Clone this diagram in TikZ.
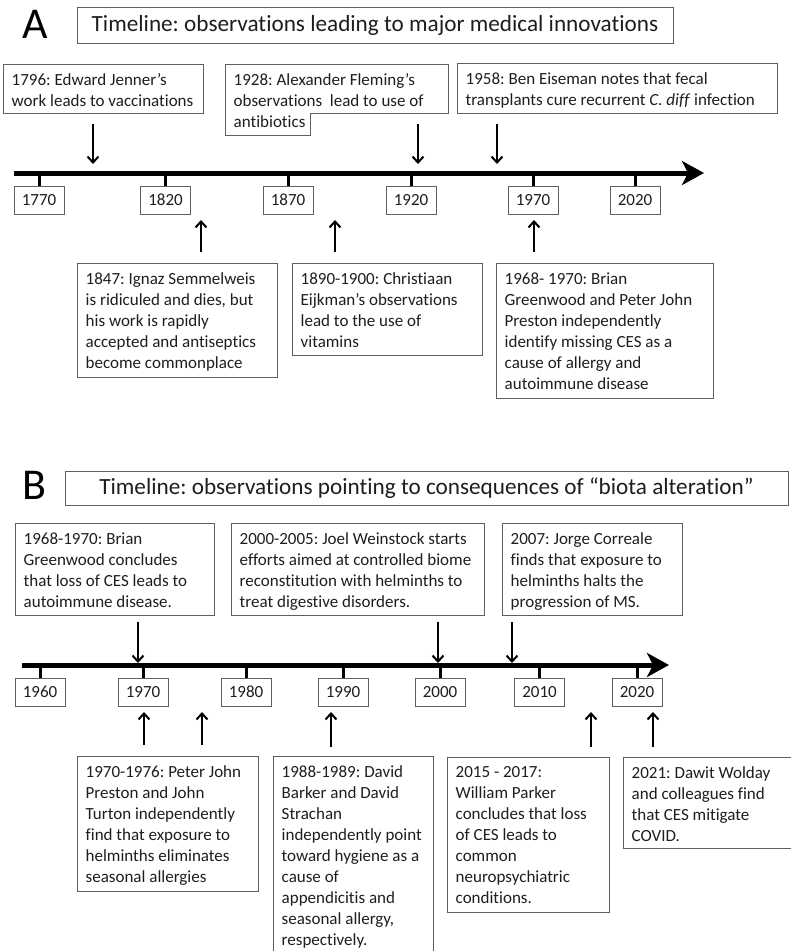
\documentclass[tikz,border=0pt]{standalone}
\usepackage{fontspec}
\setmainfont{Carlito}[Ligatures=NoCommon]
\usetikzlibrary{arrows.meta}
\frenchspacing
\definecolor{txt}{RGB}{30,30,30}
\definecolor{frame}{RGB}{95,95,95}
\tikzset{
  body/.style={font=\fontsize{17}{21}\selectfont, text=txt},
  evbox/.style={draw=frame, line width=1pt, anchor=north west, inner sep=0pt, outer sep=0pt},
  evtext/.style={body, anchor=north west, align=left, inner sep=0pt, execute at begin node=\strut},
  yearbox/.style={body, draw=frame, line width=1pt, minimum width=50pt, minimum height=28pt, inner sep=0pt},
  titlebox/.style={font=\fontsize{23.2}{28}\selectfont, text=txt, draw=frame, line width=1pt, inner sep=0pt},
  panel/.style={font=\fontsize{44}{50}\selectfont, text=black},
  axis/.style={line width=5pt, -{Stealth[length=22pt, width=24pt, inset=6pt]}},
  tick/.style={line width=3pt},
  evarrow/.style={line width=2pt, -{Straight Barb[length=6pt, width=11pt]}},
  tpos/.style={at={([shift={(8.5,9.3)}]#1.north west)}},
}
\begin{document}
\begin{tikzpicture}[x=1pt, y=-1pt]
\useasboundingbox (0,0) rectangle (791,951);
\clip (0,0) rectangle (791,951);
\fill[white] (0,0) rectangle (791,951);

% ---------------- Panel A ----------------
\node[panel] (A) at (35,24) {A};
\node[titlebox, minimum width=596pt, minimum height=36pt] (titleA) at (375,25) {Timeline: observations leading to major medical innovations};

\node[evbox, minimum width=200pt, minimum height=49pt] (a1) at (3,64) {};
\node[evtext, tpos=a1] (a1t) {1796: Edward Jenner’s\\work leads to vaccinations};

\coordinate (a2) at (225,64);
\draw[frame, line width=1pt] (a2) -- (448,64) -- (448,113) -- (310,113) -- (310,135) -- (225,135) -- cycle;
\node[evtext, tpos=a2] (a2t) {1928: Alexander Fleming’s\\observations~ lead to use of\\antibiotics};

\node[evbox, minimum width=320pt, minimum height=50pt] (a3) at (457,63) {};
\node[evtext, tpos=a3] (a3t) {1958: Ben Eiseman notes that fecal\\transplants cure recurrent \textit{C. diff} infection};

\coordinate (ax0) at (14,173);
\coordinate (ax1) at (704,173);
\draw[axis] (ax0) -- (ax1);

\foreach \n/\x in {1770/39, 1820/165.5, 1870/288, 1920/411, 1970/533, 2020/635}{
  \node[yearbox] (yA\n) at (\x,200) {\n};
  \coordinate (tA\n) at (\x,173);
  \draw[tick] (tA\n) -- (yA\n.north);
}

\coordinate (d1s) at (93,124);   \coordinate (d1e) at (93,164);
\coordinate (d2s) at (418,124);  \coordinate (d2e) at (418,164);
\coordinate (d3s) at (497,124);  \coordinate (d3e) at (497,164);
\draw[evarrow] (d1s) -- (d1e);
\draw[evarrow] (d2s) -- (d2e);
\draw[evarrow] (d3s) -- (d3e);

\coordinate (u1s) at (201,252);  \coordinate (u1e) at (201,220);
\coordinate (u2s) at (335,252);  \coordinate (u2e) at (335,220);
\coordinate (u3s) at (534,252);  \coordinate (u3e) at (534,220);
\draw[evarrow] (u1s) -- (u1e);
\draw[evarrow] (u2s) -- (u2e);
\draw[evarrow] (u3s) -- (u3e);

\node[evbox, minimum width=200pt, minimum height=114pt] (a4) at (77,263) {};
\node[evtext, tpos=a4] (a4t) {1847: Ignaz Semmelweis\\is ridiculed and dies, but\\his work is rapidly\\accepted and antiseptics\\become commonplace};
\node[evbox, minimum width=190pt, minimum height=92pt] (a5) at (292,263) {};
\node[evtext, tpos=a5] (a5t) {1890-1900: Christiaan\\Eijkman’s observations\\lead to the use of\\vitamins};
\node[evbox, minimum width=217pt, minimum height=135pt] (a6) at (496,263) {};
\node[evtext, tpos=a6] (a6t) {1968- 1970: Brian\\Greenwood and Peter John\\Preston independently\\identify missing CES as a\\cause of allergy and\\autoimmune disease};

% ---------------- Panel B ----------------
\node[panel] (B) at (34,485) {B};
\node[titlebox, minimum width=723pt, minimum height=34pt] (titleB) at (426.5,488) {Timeline: observations pointing to consequences of “biota alteration”};

\node[evbox, minimum width=199pt, minimum height=92pt] (b1) at (15,523) {};
\node[evtext, tpos=b1] (b1t) {1968-1970: Brian\\Greenwood concludes\\that loss of CES leads to\\autoimmune disease.};
\node[evbox, minimum width=253pt, minimum height=92pt] (b2) at (231,523) {};
\node[evtext, tpos=b2] (b2t) {2000-2005: Joel Weinstock starts\\efforts aimed at controlled biome\\reconstitution with helminths to\\treat digestive disorders.};
\node[evbox, minimum width=180pt, minimum height=92pt] (b3) at (502,523) {};
\node[evtext, tpos=b3] (b3t) {2007: Jorge Correale\\finds that exposure to\\helminths halts the\\progression of MS.};

\coordinate (bx0) at (22,665);
\coordinate (bx1) at (669,665);
\draw[axis] (bx0) -- (bx1);

\foreach \n/\x in {1960/40, 1970/143, 1980/246, 1990/343, 2000/440, 2010/539.5, 2020/637}{
  \node[yearbox] (yB\n) at (\x,692) {\n};
  \coordinate (tB\n) at (\x,665);
  \draw[tick] (tB\n) -- (yB\n.north);
}

\coordinate (e1s) at (138,622);  \coordinate (e1e) at (138,663);
\coordinate (e2s) at (438,622);  \coordinate (e2e) at (438,663);
\coordinate (e3s) at (512,622);  \coordinate (e3e) at (512,663);
\draw[evarrow] (e1s) -- (e1e);
\draw[evarrow] (e2s) -- (e2e);
\draw[evarrow] (e3s) -- (e3e);

\coordinate (v1s) at (144,745);  \coordinate (v1e) at (144,712);
\coordinate (v2s) at (202,745);  \coordinate (v2e) at (202,712);
\coordinate (v3s) at (331,747);  \coordinate (v3e) at (331,712);
\coordinate (v4s) at (591,747);  \coordinate (v4e) at (591,712);
\coordinate (v5s) at (653,747);  \coordinate (v5e) at (653,712);
\draw[evarrow] (v1s) -- (v1e);
\draw[evarrow] (v2s) -- (v2e);
\draw[evarrow] (v3s) -- (v3e);
\draw[evarrow] (v4s) -- (v4e);
\draw[evarrow] (v5s) -- (v5e);

\node[evbox, minimum width=181pt, minimum height=135pt] (b4) at (77,756) {};
\node[evtext, tpos=b4] (b4t) {1970-1976: Peter John\\Preston and John\\Turton independently\\find that exposure to\\helminths eliminates\\seasonal allergies};
\node[evbox, minimum width=160pt, minimum height=210pt] (b5) at (273,756) {};
\node[evtext, tpos=b5] (b5t) {1988-1989: David\\Barker and David\\Strachan\\independently point\\toward hygiene as a\\cause of\\appendicitis and\\seasonal allergy,\\respectively.};
\node[evbox, minimum width=162pt, minimum height=155pt] (b6) at (447,757) {};
\node[evtext, tpos=b6] (b6t) {2015 - 2017:\\William Parker\\concludes that loss\\of CES leads to\\common\\neuropsychiatric\\conditions.};
\node[evbox, minimum width=180pt, minimum height=91pt] (b7) at (623,757) {};
\node[evtext, tpos=b7] (b7t) {2021: Dawit Wolday\\and colleagues find\\that CES mitigate\\COVID.};
\end{tikzpicture}
\end{document}
